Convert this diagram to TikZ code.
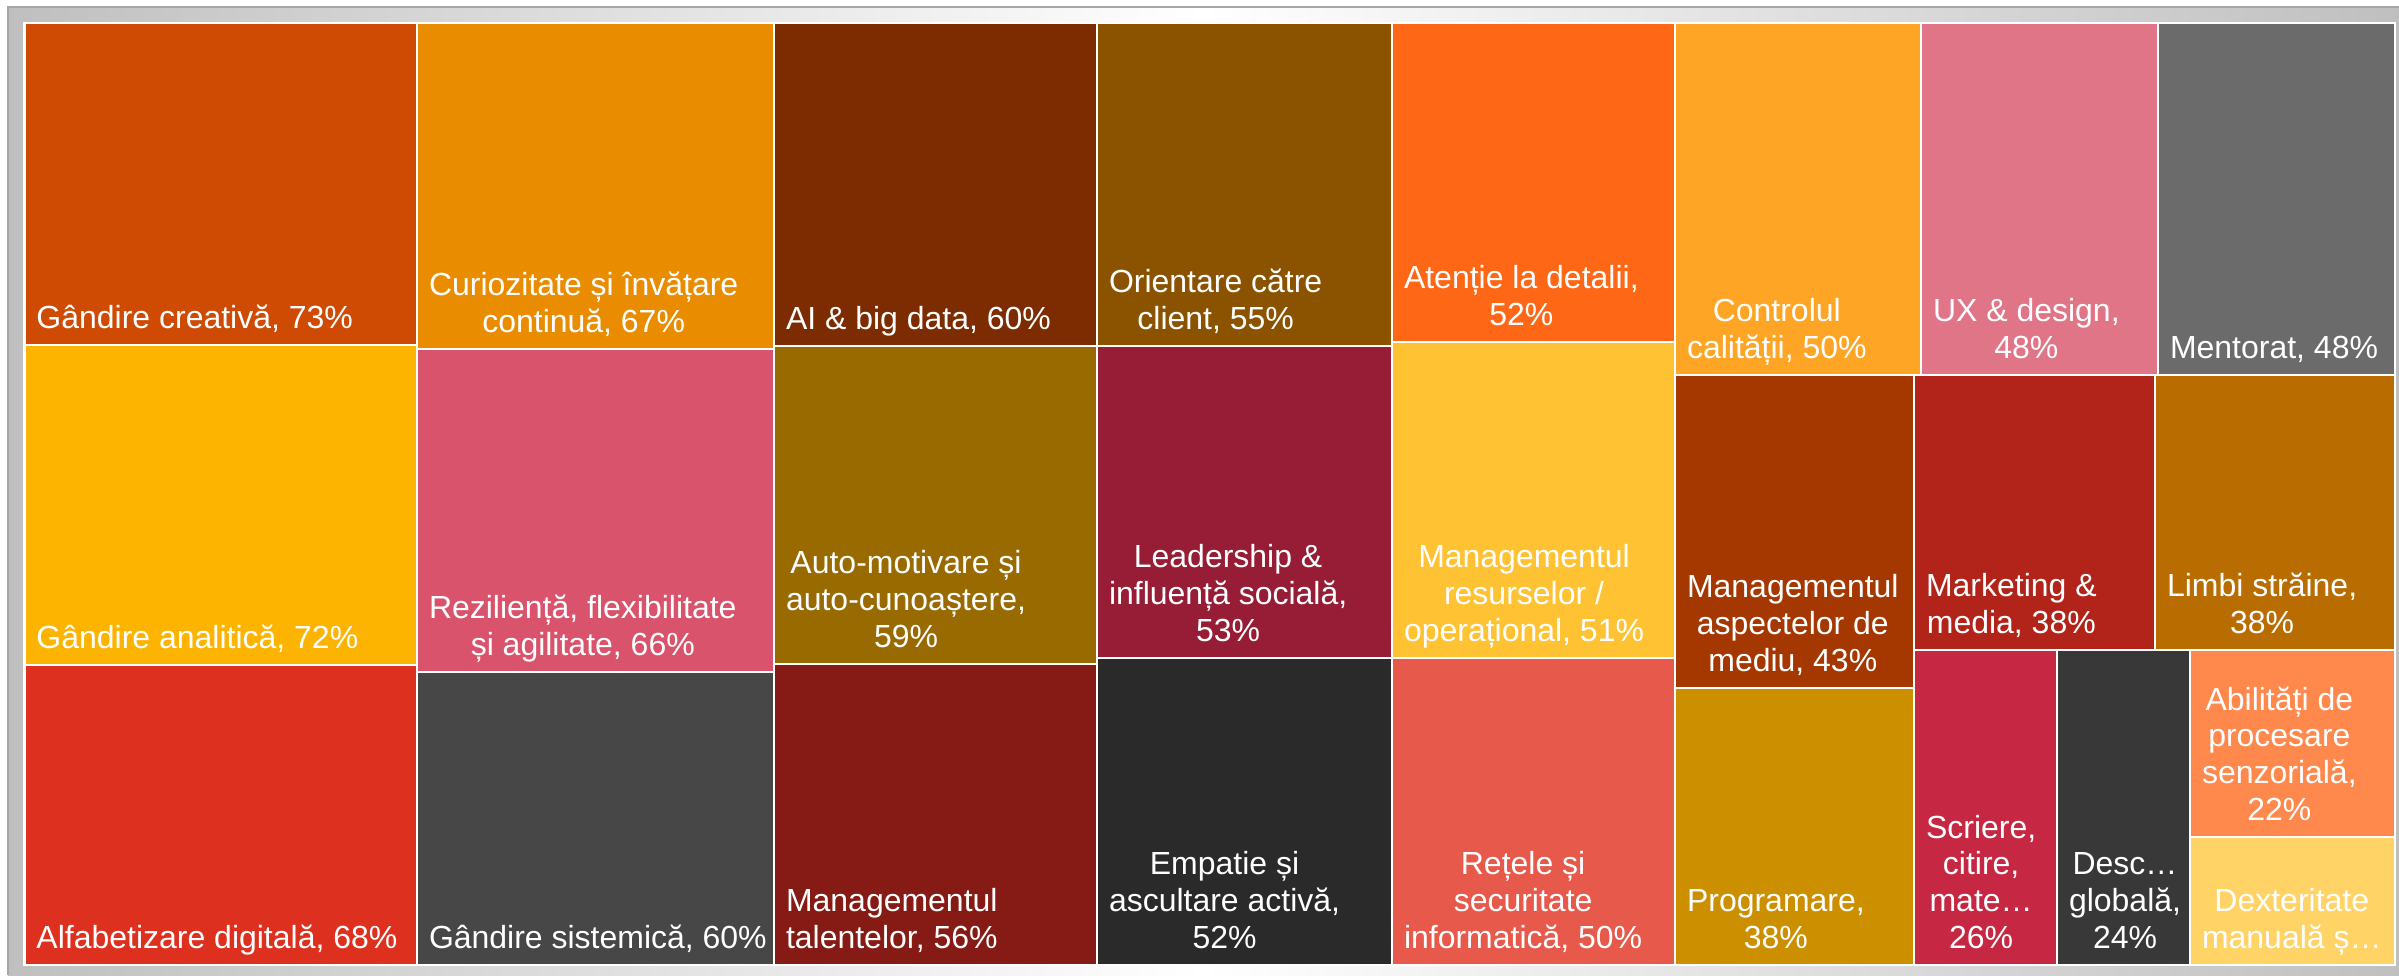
\documentclass[tikz,border=0pt]{standalone}
\usepackage{fontspec}
\setmainfont{Liberation Sans}
\usetikzlibrary{positioning}

\definecolor{creativ}{HTML}{CF4A02}
\definecolor{analitic}{HTML}{FDB400}
\definecolor{digital}{HTML}{DE301E}
\definecolor{curiozitate}{HTML}{EA8C00}
\definecolor{rezilienta}{HTML}{DA536C}
\definecolor{sistemic}{HTML}{474747}
\definecolor{aidata}{HTML}{7C2C00}
\definecolor{automotivare}{HTML}{996A00}
\definecolor{talente}{HTML}{851B14}
\definecolor{client}{HTML}{8B5300}
\definecolor{leadership}{HTML}{961D35}
\definecolor{empatie}{HTML}{2A2A2A}
\definecolor{detalii}{HTML}{FE6715}
\definecolor{resurse}{HTML}{FFC233}
\definecolor{retele}{HTML}{E6594B}
\definecolor{calitate}{HTML}{FFA525}
\definecolor{uxdesign}{HTML}{E17588}
\definecolor{mentorat}{HTML}{6B6B6B}
\definecolor{mediu}{HTML}{A53800}
\definecolor{programare}{HTML}{CC8F00}
\definecolor{marketing}{HTML}{B2241A}
\definecolor{limbi}{HTML}{B96D00}
\definecolor{scriere}{HTML}{C62844}
\definecolor{desc}{HTML}{383838}
\definecolor{senzorial}{HTML}{FF884D}
\definecolor{dexteritate}{HTML}{FFD366}

\tikzstyle{tile} = [rectangle, draw=white, line width=0.6pt, inner sep=0pt, outer sep=0pt, anchor=north west]
\tikzstyle{tiletext} = [text=white, align=center, inner sep=0pt, outer sep=0pt, font=\fontsize{9.1pt}{10.4pt}\selectfont, execute at end node=\strut]

\begin{document}
\begin{tikzpicture}

\useasboundingbox (0,0) rectangle (23.99,-9.75);
\shade [left color=gray!50, right color=gray!50, middle color=white] (0.08,-0.07) rectangle (23.99,-9.75);
\draw [gray!70, line width=0.4pt] (0.08,-9.75) -- (0.08,-0.07) -- (23.99,-0.07);

\node (gc) [tile, fill=creativ, minimum width=3.925cm, minimum height=3.22cm] at (0.245,-0.23) {};
\node (ga) [tile, fill=analitic, minimum width=3.925cm, minimum height=3.20cm] at (0.245,-3.45) {};
\node (ad) [tile, fill=digital, minimum width=3.925cm, minimum height=3.00cm] at (0.245,-6.65) {};

\node (cu) [tile, fill=curiozitate, minimum width=3.57cm, minimum height=3.26cm] at (4.17,-0.23) {};
\node (re) [tile, fill=rezilienta, minimum width=3.57cm, minimum height=3.23cm] at (4.17,-3.49) {};
\node (gs) [tile, fill=sistemic, minimum width=3.57cm, minimum height=2.93cm] at (4.17,-6.72) {};

\node (ai) [tile, fill=aidata, minimum width=3.23cm, minimum height=3.23cm] at (7.74,-0.23) {};
\node (am) [tile, fill=automotivare, minimum width=3.23cm, minimum height=3.18cm] at (7.74,-3.46) {};
\node (mt) [tile, fill=talente, minimum width=3.23cm, minimum height=3.01cm] at (7.74,-6.64) {};

\node (oc) [tile, fill=client, minimum width=2.95cm, minimum height=3.23cm] at (10.97,-0.23) {};
\node (le) [tile, fill=leadership, minimum width=2.95cm, minimum height=3.12cm] at (10.97,-3.46) {};
\node (em) [tile, fill=empatie, minimum width=2.95cm, minimum height=3.07cm] at (10.97,-6.58) {};

\node (at) [tile, fill=detalii, minimum width=2.83cm, minimum height=3.19cm] at (13.92,-0.23) {};
\node (mr) [tile, fill=resurse, minimum width=2.83cm, minimum height=3.16cm] at (13.92,-3.42) {};
\node (rs) [tile, fill=retele, minimum width=2.83cm, minimum height=3.07cm] at (13.92,-6.58) {};

\node (cq) [tile, fill=calitate, minimum width=2.46cm, minimum height=3.52cm] at (16.75,-0.23) {};
\node (ux) [tile, fill=uxdesign, minimum width=2.37cm, minimum height=3.52cm] at (19.21,-0.23) {};
\node (me) [tile, fill=mentorat, minimum width=2.37cm, minimum height=3.52cm] at (21.58,-0.23) {};

\node (ma) [tile, fill=mediu, minimum width=2.39cm, minimum height=3.13cm] at (16.75,-3.75) {};
\node (pr) [tile, fill=programare, minimum width=2.39cm, minimum height=2.77cm] at (16.75,-6.88) {};
\node (mk) [tile, fill=marketing, minimum width=2.41cm, minimum height=2.75cm] at (19.14,-3.75) {};
\node (ls) [tile, fill=limbi, minimum width=2.40cm, minimum height=2.75cm] at (21.55,-3.75) {};
\node (sc) [tile, fill=scriere, minimum width=1.43cm, minimum height=3.15cm] at (19.14,-6.50) {};
\node (dg) [tile, fill=desc, minimum width=1.33cm, minimum height=3.15cm] at (20.57,-6.50) {};
\node (ap) [tile, fill=senzorial, minimum width=2.05cm, minimum height=1.87cm] at (21.90,-6.50) {};
\node (dm) [tile, fill=dexteritate, minimum width=2.05cm, minimum height=1.28cm] at (21.90,-8.37) {};

\node (gc-text) [tiletext, above right=0.06cm and 0.12cm of gc.south west] {Gândire creativă, 73\%};
\node (ga-text) [tiletext, above right=0.06cm and 0.12cm of ga.south west] {Gândire analitică, 72\%};
\node (ad-text) [tiletext, above right=0.06cm and 0.12cm of ad.south west] {Alfabetizare digitală, 68\%};
\node (cu-text) [tiletext, above right=0.06cm and 0.12cm of cu.south west] {Curiozitate și învățare\\continuă, 67\%};
\node (re-text) [tiletext, above right=0.06cm and 0.12cm of re.south west] {Reziliență, flexibilitate\\și agilitate, 66\%};
\node (gs-text) [tiletext, above right=0.06cm and 0.12cm of gs.south west] {Gândire sistemică, 60\%};
\node (ai-text) [tiletext, above right=0.06cm and 0.12cm of ai.south west] {AI \& big data, 60\%};
\node (am-text) [tiletext, above right=0.06cm and 0.12cm of am.south west] {Auto-motivare și\\auto-cunoaștere,\\59\%};
\node (mt-text) [tiletext, above right=0.06cm and 0.12cm of mt.south west] {Managementul\\talentelor, 56\%};
\node (oc-text) [tiletext, above right=0.06cm and 0.12cm of oc.south west] {Orientare către\\client, 55\%};
\node (le-text) [tiletext, above right=0.06cm and 0.12cm of le.south west] {Leadership \&\\influență socială,\\53\%};
\node (em-text) [tiletext, above right=0.06cm and 0.12cm of em.south west] {Empatie și\\ascultare activă,\\52\%};
\node (at-text) [tiletext, above right=0.06cm and 0.12cm of at.south west] {Atenție la detalii,\\52\%};
\node (mr-text) [tiletext, above right=0.06cm and 0.12cm of mr.south west] {Managementul\\resurselor /\\operațional, 51\%};
\node (rs-text) [tiletext, above right=0.06cm and 0.12cm of rs.south west] {Rețele și\\securitate\\informatică, 50\%};
\node (cq-text) [tiletext, above right=0.06cm and 0.12cm of cq.south west] {Controlul\\calității, 50\%};
\node (ux-text) [tiletext, above right=0.06cm and 0.12cm of ux.south west] {UX \& design,\\48\%};
\node (me-text) [tiletext, above right=0.06cm and 0.12cm of me.south west] {Mentorat, 48\%};
\node (ma-text) [tiletext, above right=0.06cm and 0.12cm of ma.south west] {Managementul\\aspectelor de\\mediu, 43\%};
\node (pr-text) [tiletext, above right=0.06cm and 0.12cm of pr.south west] {Programare,\\38\%};
\node (mk-text) [tiletext, above right=0.06cm and 0.12cm of mk.south west] {Marketing \&\\media, 38\%};
\node (ls-text) [tiletext, above right=0.06cm and 0.12cm of ls.south west] {Limbi străine,\\38\%};
\node (sc-text) [tiletext, above right=0.06cm and 0.12cm of sc.south west] {Scriere,\\citire,\\mate…\\26\%};
\node (dg-text) [tiletext, above right=0.06cm and 0.12cm of dg.south west] {Desc…\\globală,\\24\%};
\node (ap-text) [tiletext, above right=0.06cm and 0.12cm of ap.south west] {Abilități de\\procesare\\senzorială,\\22\%};
\node (dm-text) [tiletext, above right=0.06cm and 0.12cm of dm.south west] {Dexteritate\\manuală ș…};

\end{tikzpicture}
\end{document}
